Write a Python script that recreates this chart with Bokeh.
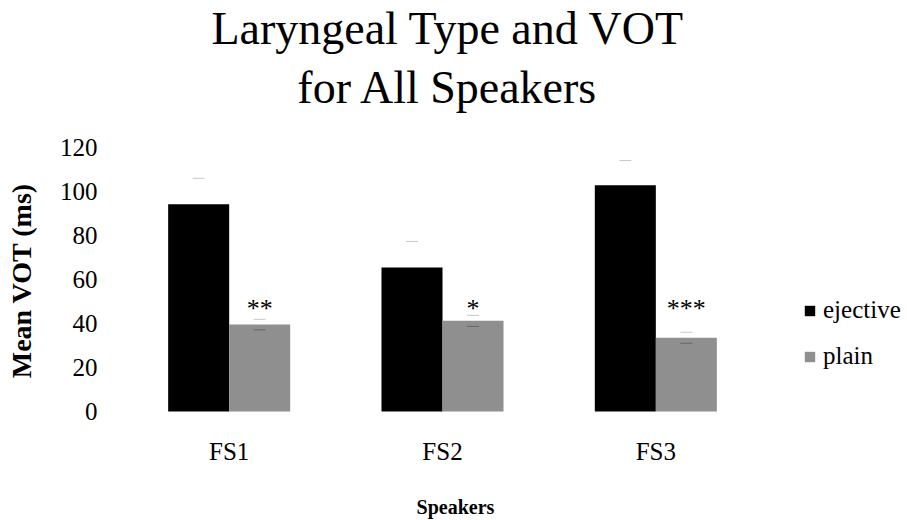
from bokeh.plotting import figure
from bokeh.models import Range1d, FixedTicker, Legend, LegendItem
from bokeh.embed import file_html
from bokeh.resources import INLINE
from bokeh.core.properties import value
import math

speakers = ["FS1", "FS2", "FS3"]
ejective = [94.2, 65.5, 102.8]
ejective_err = [11.8, 11.8, 11.3]
plain = [39.5, 41.2, 33.5]
plain_err = [2.4, 2.5, 2.5]
sig = ["**", "*", "***"]
sig_level = [47, 47, 47]
yticks = [0, 20, 40, 60, 80, 100, 120]
title_lines = ["Laryngeal Type and VOT", "for All Speakers"]
x_title = "Speakers"
y_title = "Mean VOT (ms)"

FONT = "Liberation Serif"
BW = 0.286

# The plotting frame fills the canvas; axes are pinned at x=0 / y=0.
p = figure(width=907, height=520, output_backend="svg", toolbar_location=None,
           x_range=Range1d(-0.5719, 3.6797), y_range=Range1d(-49.55, 186.82),
           min_border_left=0, min_border_right=0, min_border_top=0, min_border_bottom=0)
p.outline_line_color = None
p.grid.visible = False
p.background_fill_color = "white"
p.border_fill_color = "white"

centers = [i + 0.5 for i in range(len(speakers))]
xe = [c - BW / 2 for c in centers]
xp = [c + BW / 2 for c in centers]

r_e = p.vbar(x=xe, top=ejective, bottom=0, width=BW, fill_color="#000000", line_color=None)
r_p = p.vbar(x=xp, top=plain, bottom=0, width=BW, fill_color="#8f8f8f", line_color=None)

# error caps
p.dash(x=xe, y=[v + e for v, e in zip(ejective, ejective_err)], size=12, line_color="#c8c8c8", line_width=1)
p.dash(x=xp, y=[v + e for v, e in zip(plain, plain_err)], size=12, line_color="#c8c8c8", line_width=1)
p.dash(x=xp, y=[v - e for v, e in zip(plain, plain_err)], size=12, line_color="#666666", line_width=1)

# significance stars
p.text(x=xp, y=sig_level, text=sig, text_align="center",
       text_baseline="middle", text_font=value(FONT), text_font_size="26px", text_color="#000000")

# axes pinned at the origin
p.xaxis.fixed_location = 0
p.yaxis.fixed_location = 0
p.xaxis.ticker = FixedTicker(ticks=centers)
p.xaxis.major_label_overrides = {c: s for c, s in zip(centers, speakers)}
p.yaxis.ticker = FixedTicker(ticks=yticks)
for ax in (p.xaxis[0], p.yaxis[0]):
    ax.axis_line_color = None
    ax.major_tick_line_color = None
    ax.minor_tick_line_color = None
    ax.major_tick_out = 0
    ax.major_tick_in = 0
    ax.major_label_text_font = FONT
    ax.major_label_text_font_size = "25px"
    ax.major_label_text_color = "#000000"
p.xaxis.major_label_standoff = 27
p.yaxis.major_label_standoff = 25

# axis titles
p.text(x=[1.561], y=[-43.6], text=[x_title], text_align="center", text_baseline="middle",
       text_font=value(FONT), text_font_size="20px", text_font_style="bold", text_color="#000000")
p.text(x=[-0.4734], y=[59.5], text=[y_title], angle=math.pi / 2, text_align="center",
       text_baseline="middle", text_font=value(FONT), text_font_size="28px",
       text_font_style="bold", text_color="#000000")

# chart title
p.text(x=[1.526, 1.526], y=[173.9, 147.5], text=title_lines, text_align="center",
       text_baseline="middle", text_font=value(FONT), text_font_size="46px",
       text_color="#000000")

legend = Legend(items=[LegendItem(label="ejective", renderers=[r_e]),
                       LegendItem(label="plain", renderers=[r_p])],
                location=(803, 150), orientation="vertical",
                glyph_width=13, glyph_height=13, label_text_font=FONT,
                label_text_font_size="25px", label_text_color="#000000",
                label_standoff=7, spacing=18,
                padding=0, margin=0, border_line_color=None, background_fill_alpha=0)
p.add_layout(legend)

open("out.html", "w").write(file_html(p, INLINE))
